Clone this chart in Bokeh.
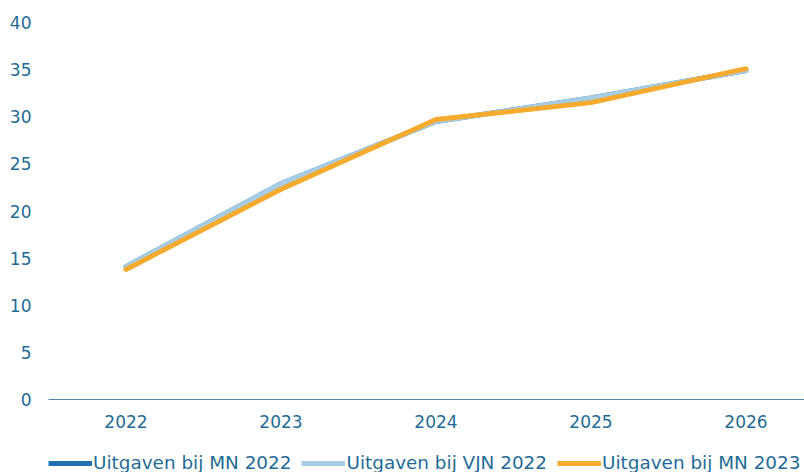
from bokeh.plotting import figure
from bokeh.models import Range1d, FixedTicker, Legend, LegendItem
from bokeh.layouts import column
from bokeh.embed import file_html
from bokeh.resources import INLINE

years = [2022, 2023, 2024, 2025, 2026]
mn_2022 = [14.1, 22.9, 29.5, 32.0, 34.9]
vjn_2022 = [14.1, 22.9, 29.5, 32.0, 34.9]
mn_2023 = [13.8, 22.3, 29.7, 31.5, 35.1]
series_names = ["Uitgaven bij MN 2022", "Uitgaven bij VJN 2022", "Uitgaven bij MN 2023"]
colors = ["#1f73b3", "#a6cde5", "#f7ab2e"]
y_ticks = [0, 5, 10, 15, 20, 25, 30, 35, 40]

TEXT = "#1f6b96"
FONT = "DejaVu Sans"

p = figure(width=804, height=452, output_backend="svg", toolbar_location=None,
           x_range=Range1d(2021.5, 2021.5 + 756 / 155), y_range=Range1d(0, 40))
p.min_border_left = 48
p.min_border_right = 0
p.min_border_top = 22
p.min_border_bottom = 53
p.outline_line_color = None
p.xgrid.grid_line_color = None
p.ygrid.grid_line_color = None

for vals, c in zip([mn_2022, vjn_2022, mn_2023], colors):
    p.line(years, vals, line_color=c, line_width=5, line_cap="round", line_join="round")

p.xaxis.ticker = FixedTicker(ticks=years)
p.xaxis.major_tick_line_color = None
p.xaxis.major_tick_out = 0
p.xaxis.minor_tick_line_color = None
p.xaxis.axis_line_color = "#4f86ad"
p.xaxis.axis_line_width = 1
p.xaxis.major_label_text_color = TEXT
p.xaxis.major_label_text_font = FONT
p.xaxis.major_label_text_font_size = "17px"
p.xaxis.major_label_standoff = 15

p.yaxis.ticker = FixedTicker(ticks=y_ticks)
p.yaxis.major_tick_line_color = None
p.yaxis.major_tick_out = 0
p.yaxis.minor_tick_line_color = None
p.yaxis.axis_line_color = None
p.yaxis.major_label_text_color = TEXT
p.yaxis.major_label_text_font = FONT
p.yaxis.major_label_text_font_size = "17px"
p.yaxis.major_label_standoff = 17

# legend strip below the chart (series drawn out of view; only the legend shows)
lg = figure(width=804, height=20, output_backend="svg", toolbar_location=None,
            x_range=Range1d(2021.5, 2026.4), y_range=Range1d(100, 101),
            x_axis_location=None, y_axis_location=None,
            min_border_left=48, min_border_right=0, min_border_top=0, min_border_bottom=0)
lg.outline_line_color = None
lg.xgrid.grid_line_color = None
lg.ygrid.grid_line_color = None
items = []
for n, vals, c in zip(series_names, [mn_2022, vjn_2022, mn_2023], colors):
    r = lg.line(years, vals, line_color=c, line_width=5)
    items.append(LegendItem(label=n, renderers=[r]))
legend = Legend(items=items, orientation="horizontal", location="top_left",
                glyph_width=44, glyph_height=20, label_height=20,
                label_standoff=1, spacing=10, padding=0, margin=0,
                label_text_color=TEXT, label_text_font=FONT, label_text_font_size="18.4px",
                background_fill_alpha=0, border_line_color=None)
lg.add_layout(legend, "center")

layout = column(p, lg, spacing=0)
open("out.html", "w").write(file_html(layout, INLINE))
